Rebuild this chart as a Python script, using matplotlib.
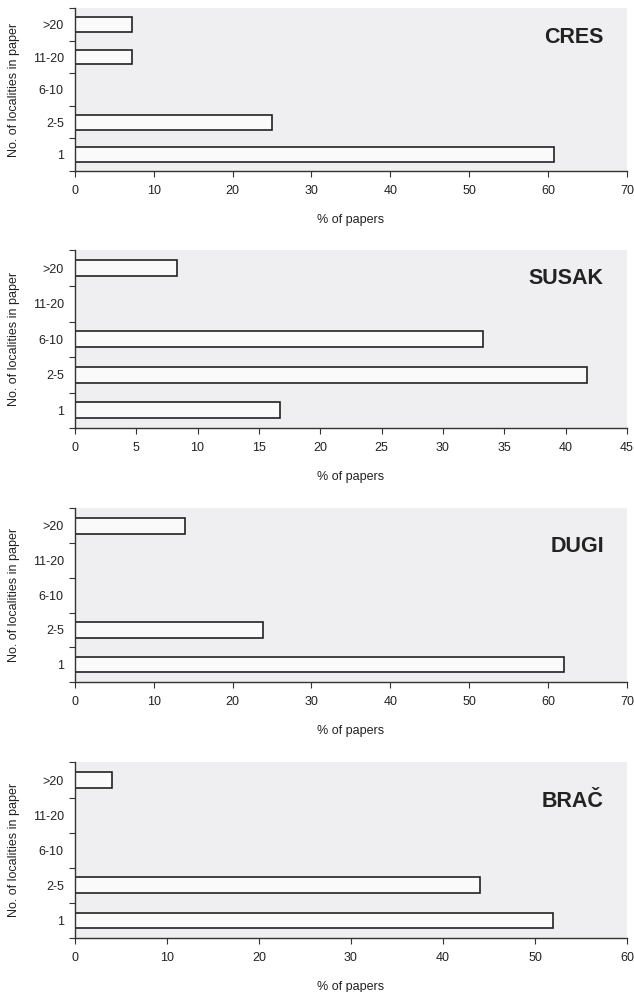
import matplotlib
matplotlib.use("Agg")
import matplotlib.pyplot as plt
import numpy as np

plt.rcParams['font.family'] = ['Liberation Sans', 'DejaVu Sans']

# categories, bottom to top
categories = ['1', '2-5', '6-10', '11-20', '>20']

islands = ['CRES', 'SUSAK', 'DUGI', 'BRAČ']
cres = [60.7, 25.0, 0, 7.2, 7.2]
susak = [16.7, 41.7, 33.3, 0, 8.3]
dugi = [62.0, 23.8, 0, 0, 14.0]
brac = [52.0, 44.0, 0, 0, 4.0]
values = [cres, susak, dugi, brac]
xmax = [70, 45, 70, 60]
xstep = [10, 5, 10, 10]

# axes boxes in figure fractions [left, bottom, width, height]
boxes = [
    [0.118, 0.8276, 0.871, 0.164],
    [0.118, 0.5685, 0.871, 0.179],
    [0.118, 0.3125, 0.871, 0.175],
    [0.118, 0.0544, 0.871, 0.177],
]
title_y = [0.82, 0.84, 0.78, 0.78]

fig = plt.figure(figsize=(6.34, 9.92), dpi=100)

for name, vals, xm, st, box, ty in zip(islands, values, xmax, xstep, boxes, title_y):
    ax = fig.add_axes(box)
    ax.set_facecolor('#efeff1')
    y = np.arange(len(categories))
    nz = [i for i, v in enumerate(vals) if v > 0]
    ax.barh([y[i] for i in nz], [vals[i] for i in nz], height=0.45,
            color='#fafafa', edgecolor='#222222', linewidth=1.2)
    ax.set_xlim(0, xm)
    ax.set_ylim(-0.5, len(categories) - 0.5)
    ax.set_xticks(np.arange(0, xm + 1, st))
    # tick marks between categories, labels at centres
    ax.set_yticks(np.arange(-0.5, len(categories), 1.0))
    ax.set_yticklabels([])
    ax.set_yticks(y, minor=True)
    ax.set_yticklabels(categories, minor=True)
    ax.tick_params(axis='y', which='minor', length=0, pad=8, labelsize=9, colors='#222222')
    ax.tick_params(axis='y', which='major', length=4, color='#333333')
    ax.tick_params(axis='x', length=4, color='#333333', labelsize=9, labelcolor='#222222', pad=6)
    for s in ['top', 'right']:
        ax.spines[s].set_visible(False)
    for s in ['left', 'bottom']:
        ax.spines[s].set_color('#333333')
        ax.spines[s].set_linewidth(1.0)
    ax.set_xlabel('% of papers', fontsize=9, color='#222222', labelpad=12)
    ax.set_ylabel('No. of localities in paper', fontsize=9, color='#222222', labelpad=9)
    ax.text(0.958, ty, name, transform=ax.transAxes, ha='right', va='center',
            fontsize=15.5, fontweight='bold', color='#222222')

fig.savefig('out.png', dpi=100)
